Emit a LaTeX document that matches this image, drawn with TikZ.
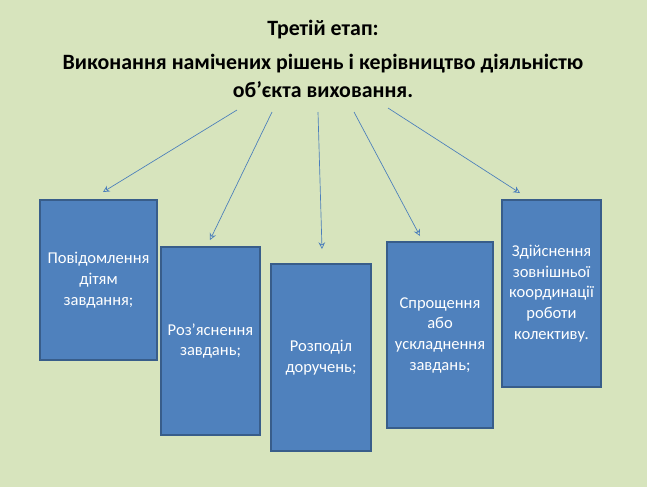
\documentclass[tikz,border=0pt]{standalone}
\usepackage{fontspec}
\setmainfont{Carlito}
\usetikzlibrary{arrows.meta}
\definecolor{bgGreen}{HTML}{D7E4BD}
\definecolor{boxBlue}{HTML}{4F81BD}
\definecolor{boxEdge}{HTML}{385D8A}
\definecolor{arrowBlue}{HTML}{4A7EBB}
\tikzset{
  stage/.style={draw=boxEdge,line width=1.2pt,fill=boxBlue,text=white,align=center,font=\fontsize{12.4}{15.5}\selectfont,inner sep=2pt},
  link/.style={draw=arrowBlue,-{Stealth[length=5pt,width=5pt,open]},line width=0.5pt}
}
\begin{document}
\begin{tikzpicture}[x=0.75pt,y=-0.75pt]
  \fill[bgGreen] (0,0) rectangle (647,487);
  \node[font=\bfseries\fontsize{16.4}{20}\selectfont] (t1) at (323,30) {Третій етап:};
  \node[font=\bfseries\fontsize{16.4}{21}\selectfont,align=center] (t2) at (323,76)
    {Виконання намічених рішень і керівництво діяльністю\\об’єкта виховання.};

  \node[stage,minimum width=117*0.75pt,minimum height=160*0.75pt] (b1) at (98.5,280) {Повідомлення\\дітям\\завдання;};
  \node[stage,minimum width=99*0.75pt,minimum height=188*0.75pt] (b2) at (210.5,341) {Роз’яснення\\завдань;};
  \node[stage,minimum width=100*0.75pt,minimum height=187*0.75pt] (b3) at (321,357.5) {Розподіл\\доручень;};
  \node[stage,minimum width=106*0.75pt,minimum height=186*0.75pt] (b4) at (440,335) {Спрощення\\або\\ускладнення\\завдань;};
  \node[stage,minimum width=99*0.75pt,minimum height=187*0.75pt] (b5) at (551.5,293.5) {Здійснення\\зовнішньої\\координації\\роботи\\колективу.};

  \coordinate (s1) at (237,110);
  \coordinate (s2) at (272,112);
  \coordinate (s3) at (318,112);
  \coordinate (s4) at (354,112);
  \coordinate (s5) at (388,108);
  \coordinate (e1) at (103,192);
  \coordinate (e2) at (210,240);
  \coordinate (e3) at (322,249);
  \coordinate (e4) at (420,236);
  \coordinate (e5) at (520,193);

  \draw[link] (s1) -- (e1);
  \draw[link] (s2) -- (e2);
  \draw[link] (s3) -- (e3);
  \draw[link] (s4) -- (e4);
  \draw[link] (s5) -- (e5);
\end{tikzpicture}
\end{document}
